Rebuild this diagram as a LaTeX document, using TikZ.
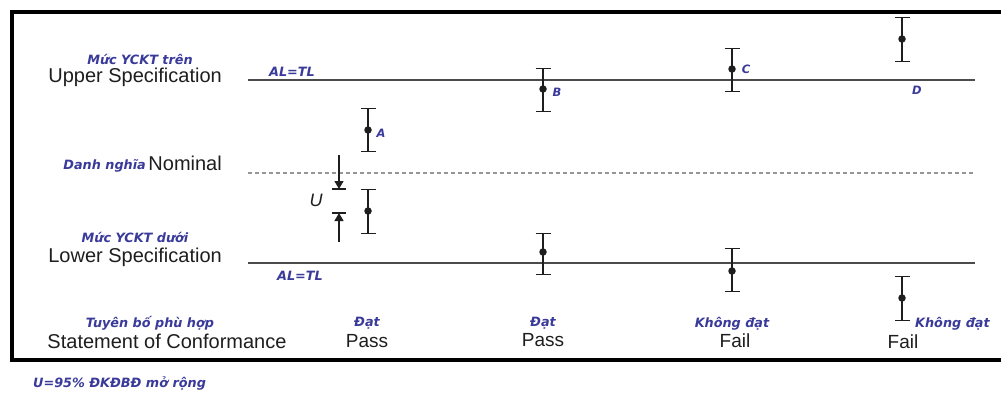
\documentclass[tikz,border=0pt]{standalone}
\usepackage{fontspec}
\setmainfont{Liberation Sans}
\newfontfamily\vn{DejaVu Sans}[ItalicFont={DejaVu Sans Oblique},BoldFont={DejaVu Sans Bold},BoldItalicFont={DejaVu Sans Bold Oblique}]
\usetikzlibrary{arrows.meta}
\definecolor{vblue}{RGB}{58,58,155}
\definecolor{ink}{RGB}{30,30,30}
\definecolor{lgray}{RGB}{75,75,75}
\definecolor{dgray}{RGB}{150,150,150}
\begin{document}
\begin{tikzpicture}[x=1pt,y=-1pt,
  en/.style={font=\fontsize{20}{22}\selectfont, text=ink, inner sep=0pt},
  ens/.style={font=\fontsize{19}{21}\selectfont, text=ink, inner sep=0pt},
  vi/.style={font=\vn\bfseries\itshape\fontsize{12.8}{14}\selectfont, text=vblue, inner sep=0pt},
  ptlab/.style={font=\vn\bfseries\itshape\fontsize{11.5}{13}\selectfont, text=vblue, inner sep=0pt},
  spec/.style={draw=lgray, line width=1.5pt},
  nomline/.style={draw=dgray, line width=1.3pt, dash pattern=on 4pt off 3pt},
  ebar/.style={draw=ink, line width=1.4pt, {Bar[width=15pt]}-{Bar[width=15pt]}},
  dotn/.style={circle, fill=ink, inner sep=0pt, minimum size=7.5pt},
  uarrow/.style={draw=ink, line width=1.2pt, -{Triangle[width=9pt,length=8pt]}},
  ucap/.style={draw=ink, line width=1.4pt},
  frame/.style={draw=black, line width=3.5pt}]
\useasboundingbox (0,0) rectangle (1001,392);
\fill[white] (0,0) rectangle (1001,392);

% frame
\coordinate (f1) at (1012,12);
\coordinate (f2) at (12,12);
\coordinate (f3) at (12,360);
\coordinate (f4) at (1012,360);
\draw[frame] (f1) -- (f2) -- (f3) -- (f4);

% reference lines
\coordinate (ul0) at (248,80);  \coordinate (ul1) at (975,80);
\coordinate (nl0) at (248,173); \coordinate (nl1) at (975,173);
\coordinate (ll0) at (248,263); \coordinate (ll1) at (975,263);
\draw[spec] (ul0) -- (ul1);
\draw[nomline] (nl0) -- (nl1);
\draw[spec] (ll0) -- (ll1);

% error bars
\foreach \n/\x/\t/\d/\b in {A/368/108/130/152, A2/368/189/211/234,
  B/543/68/89/112, B2/543/233/252/275,
  C/732/48/69/92, C2/732/248/271/292,
  D/902/17/39/62, D2/902/276/298/321}{
  \coordinate (\n t) at (\x,\t);
  \coordinate (\n b) at (\x,\b);
  \draw[ebar] (\n t) -- (\n b);
  \node[dotn] (\n d) at (\x,\d) {};
}

% U arrows
\coordinate (u1s) at (339,155); \coordinate (u1e) at (339,189);
\coordinate (u2s) at (339,242); \coordinate (u2e) at (339,213);
\draw[uarrow] (u1s) -- (u1e);
\draw[uarrow] (u2s) -- (u2e);
\draw[ucap] ([xshift=-7pt]u1e) -- ([xshift=7pt]u1e);
\draw[ucap] ([xshift=-7pt]u2e) -- ([xshift=7pt]u2e);
\node[font=\itshape\fontsize{18}{20}\selectfont, text=ink, inner sep=0pt] (ulab) at (316,200) {U};

% point labels
\node[ptlab] (la) at (381,133) {A};
\node[ptlab] (lb) at (557,92) {B};
\node[ptlab] (lc) at (746,69) {C};
\node[ptlab] (ld) at (917,90) {D};

% left labels
\node[vi, anchor=base] (vup) at (140,64) {Mức YCKT trên};
\node[en, anchor=base east] (up) at (222,82) {Upper Specification};
\node[vi, anchor=base] (altop) at (292,76) {AL=TL};
\node[en, anchor=base east] (nom) at (222,170) {Nominal};
\node[vi, anchor=base east] (vnom) at (146,169) {Danh nghĩa};
\node[vi, anchor=base] (vlow) at (135,242) {Mức YCKT dưới};
\node[en, anchor=base east] (low) at (222,262) {Lower Specification};
\node[vi, anchor=base] (albot) at (300,280) {AL=TL};
\node[vi, anchor=base] (vst) at (150,327) {Tuyên bố phù hợp};
\node[en, anchor=base] (st) at (167,348) {Statement of Conformance};
\node[vi, anchor=base west] (vu) at (33,387) {U=95\% ĐKĐBĐ mở rộng};

% conformance statements
\node[vi, anchor=base] (v1) at (367,326) {Đạt};
\node[ens, anchor=base] (p1) at (367,347) {Pass};
\node[vi, anchor=base] (v2) at (543,326) {Đạt};
\node[ens, anchor=base] (p2) at (543,346) {Pass};
\node[vi, anchor=base] (v3) at (732,327) {Không đạt};
\node[ens, anchor=base] (p3) at (735,347) {Fail};
\node[vi, anchor=base west] (v4) at (915,327) {Không đạt};
\node[ens, anchor=base] (p4) at (903,348) {Fail};
\end{tikzpicture}
\end{document}
